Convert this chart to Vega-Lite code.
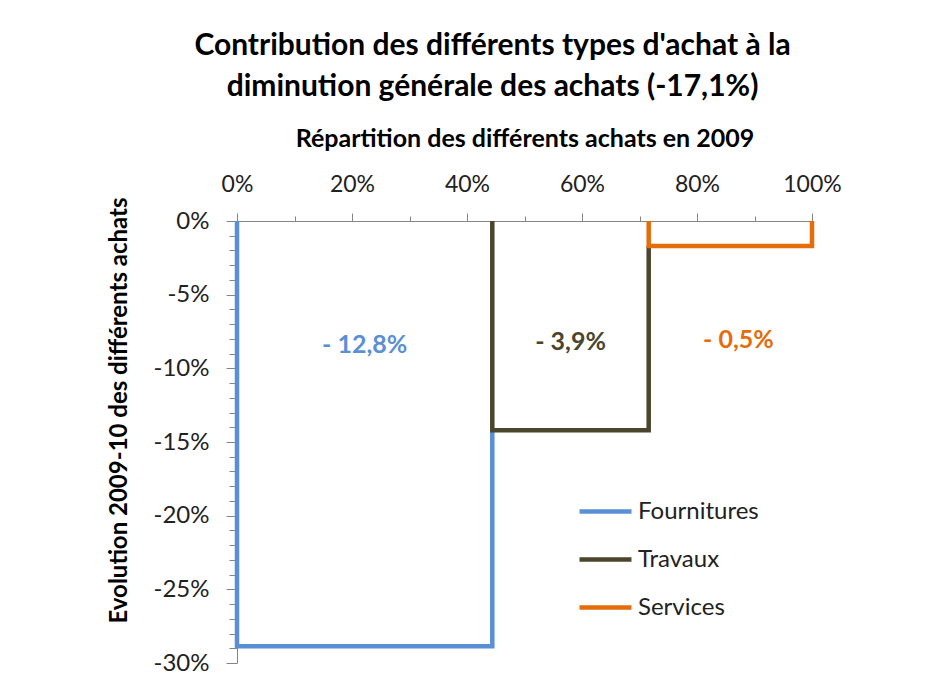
{
  "$schema": "https://vega.github.io/schema/vega-lite/v6.json",
  "width": 575,
  "height": 442,
  "autosize": "none",
  "padding": {"left": 237, "top": 221, "right": 139, "bottom": 18},
  "background": "white",
  "config": {"view": {"stroke": null}, "font": "Lato"},
  "title": {
    "text": ["Contribution des différents types d'achat  à la", "diminution générale des achats (-17,1%)"],
    "fontSize": 30,
    "fontWeight": "bold",
    "color": "#000000",
    "lineHeight": 41,
    "anchor": "middle",
    "dx": -32,
    "offset": 24
  },
  "datasets": {
    "lines": [
      {"series": "Fournitures", "step": 1, "part": 0, "evol": 0},
      {"series": "Fournitures", "step": 2, "part": 0, "evol": -28.87},
      {"series": "Fournitures", "step": 3, "part": 44.4, "evol": -28.87},
      {"series": "Fournitures", "step": 4, "part": 44.4, "evol": -14.2},
      {"series": "Travaux", "step": 1, "part": 44.4, "evol": 0},
      {"series": "Travaux", "step": 2, "part": 44.4, "evol": -14.2},
      {"series": "Travaux", "step": 3, "part": 71.6, "evol": -14.2},
      {"series": "Travaux", "step": 4, "part": 71.6, "evol": -1.7},
      {"series": "Services", "step": 1, "part": 71.6, "evol": 0},
      {"series": "Services", "step": 2, "part": 71.6, "evol": -1.7},
      {"series": "Services", "step": 3, "part": 100, "evol": -1.7},
      {"series": "Services", "step": 4, "part": 100, "evol": 0}
    ],
    "labels": [
      {"series": "Fournitures", "part": 22.2, "evol": -8.4, "label": "- 12,8%"},
      {"series": "Travaux", "part": 58, "evol": -8.2, "label": "- 3,9%"},
      {"series": "Services", "part": 87.2, "evol": -8.1, "label": "- 0,5%"}
    ]
  },
  "layer": [
    {
      "data": {"name": "lines"},
      "mark": {"type": "line", "strokeWidth": 4.5, "strokeJoin": "miter", "clip": false},
      "encoding": {
        "x": {
          "field": "part",
          "type": "quantitative",
          "scale": {"domain": [0, 100], "nice": false, "zero": false},
          "axis": {
            "orient": "top",
            "title": "Répartition des différents achats  en 2009",
            "values": [0, 10, 20, 30, 40, 50, 60, 70, 80, 90, 100],
            "tickCount": 100,
            "labelExpr": "datum.value % 20 === 0 ? datum.value + '%' : ''",
            "tickSize": {"condition": {"test": "datum.value % 20 !== 0", "value": 5}, "value": 8},
            "grid": false,
            "domainColor": "#868686",
            "tickColor": "#868686",
            "labelFontSize": 23,
            "labelColor": "#222222",
            "labelFlush": false,
            "labelOverlap": false,
            "labelPadding": 17,
            "titleFontSize": 25,
            "titleFontWeight": "bold",
            "titleColor": "#000000",
            "titlePadding": 22
          }
        },
        "y": {
          "field": "evol",
          "type": "quantitative",
          "scale": {"domain": [-30, 0], "nice": false, "zero": false},
          "axis": {
            "title": "Evolution  2009-10 des différents achats",
            "values": [0, -1, -2, -3, -4, -5, -6, -7, -8, -9, -10, -11, -12, -13, -14, -15, -16, -17, -18, -19, -20, -21, -22, -23, -24, -25, -26, -27, -28, -29, -30],
            "tickCount": 100,
            "labelExpr": "datum.value % 5 === 0 ? datum.value + '%' : ''",
            "tickSize": {"condition": {"test": "datum.value % 5 !== 0", "value": 8}, "value": 11},
            "grid": false,
            "domainColor": "#868686",
            "tickColor": "#868686",
            "labelFontSize": 24,
            "labelColor": "#222222",
            "labelFlush": false,
            "labelOverlap": false,
            "labelPadding": 17,
            "titleFontSize": 24,
            "titleFontWeight": "bold",
            "titleColor": "#000000",
            "titlePadding": 22,
            "titleY": 189
          }
        },
        "color": {
          "field": "series",
          "type": "nominal",
          "scale": {"domain": ["Fournitures", "Travaux", "Services"], "range": ["#5a8fd6", "#4a452c", "#e46c0a"]},
          "legend": {
            "title": null,
            "orient": "none",
            "legendX": 340,
            "legendY": 262,
            "symbolType": "stroke",
            "symbolSize": 2700,
            "symbolStrokeWidth": 4.5,
            "labelFontSize": 24,
            "labelColor": "#222222",
            "labelOffset": 4,
            "rowPadding": 7,
            "padding": 0
          }
        },
        "order": {"field": "step", "type": "quantitative"}
      }
    },
    {
      "data": {"name": "labels"},
      "mark": {"type": "text", "fontSize": 25, "fontWeight": "bold", "align": "center", "baseline": "middle"},
      "encoding": {
        "x": {"field": "part", "type": "quantitative"},
        "y": {"field": "evol", "type": "quantitative"},
        "text": {"field": "label"},
        "color": {"field": "series", "type": "nominal", "legend": null}
      }
    }
  ]
}
